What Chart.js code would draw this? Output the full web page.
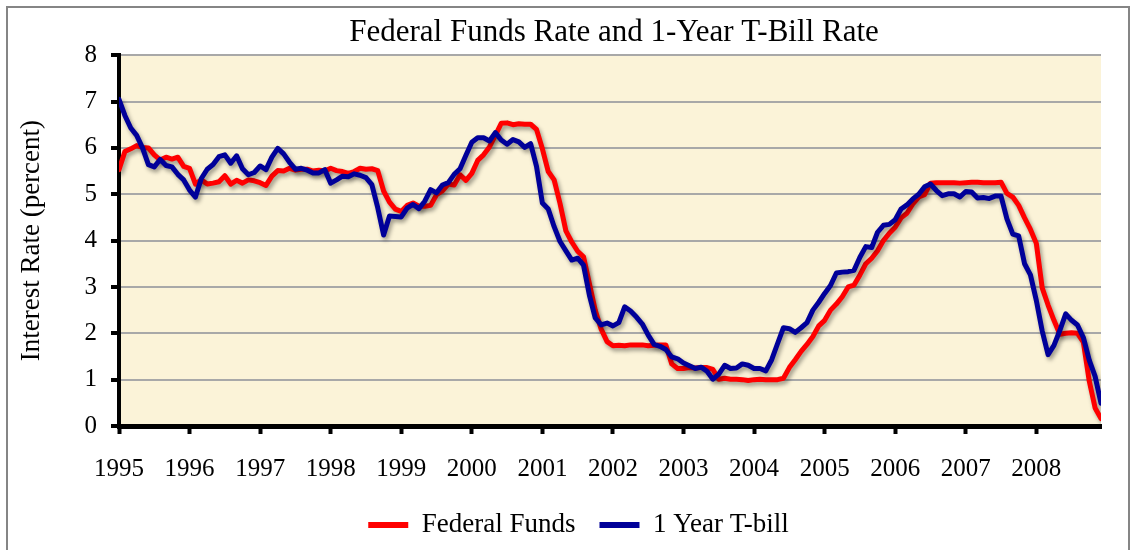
<!DOCTYPE html>
<html>
<head>
<meta charset="utf-8">
<script src="https://cdn.jsdelivr.net/npm/chart.js@4.4.1/dist/chart.umd.min.js"></script>
<style>
html,body{margin:0;padding:0;background:#fff;}
#wrap{width:1132px;height:550px;position:relative;}
</style>
</head>
<body>
<div id="wrap"><canvas id="c" width="1132" height="550"></canvas></div>
<script>
// Tick labels (one per January, starting 1995)
const years = ['1995','1996','1997','1998','1999','2000','2001','2002','2003','2004','2005','2006','2007','2008'];

// Monthly Federal Funds rate, Jan 1995 - Dec 2008 (percent)
const fedFunds = [
  5.53,5.92,5.98,6.05,6.01,6.00,5.85,5.74,5.80,5.76,5.80,5.60,
  5.56,5.22,5.31,5.22,5.24,5.27,5.40,5.22,5.30,5.24,5.31,5.29,
  5.25,5.19,5.39,5.51,5.50,5.56,5.52,5.54,5.54,5.50,5.52,5.50,
  5.56,5.51,5.49,5.45,5.49,5.56,5.54,5.55,5.51,5.07,4.83,4.68,
  4.63,4.76,4.81,4.74,4.74,4.76,4.99,5.07,5.22,5.20,5.42,5.30,
  5.45,5.73,5.85,6.02,6.27,6.53,6.54,6.50,6.52,6.51,6.51,6.40,
  5.98,5.49,5.31,4.80,4.21,3.97,3.77,3.65,3.07,2.49,2.09,1.82,
  1.73,1.74,1.73,1.75,1.75,1.75,1.73,1.74,1.75,1.75,1.34,1.24,
  1.24,1.26,1.25,1.26,1.26,1.22,1.01,1.03,1.01,1.01,1.00,0.98,
  1.00,1.01,1.00,1.00,1.00,1.03,1.26,1.43,1.61,1.76,1.93,2.16,
  2.28,2.50,2.63,2.79,3.00,3.04,3.26,3.50,3.62,3.78,4.00,4.16,
  4.29,4.49,4.59,4.79,4.94,4.99,5.24,5.25,5.25,5.25,5.25,5.24,
  5.25,5.26,5.26,5.25,5.25,5.25,5.26,5.02,4.94,4.76,4.49,4.24,
  3.94,2.98,2.61,2.28,1.98,2.00,2.01,2.00,1.81,0.97,0.39,0.16
];

// Monthly 1-Year T-bill rate, Jan 1995 - Dec 2008 (percent)
const tBill1Year = [
  7.05,6.70,6.43,6.27,6.00,5.64,5.59,5.75,5.62,5.59,5.43,5.31,
  5.09,4.94,5.34,5.54,5.64,5.81,5.85,5.67,5.83,5.55,5.42,5.47,
  5.61,5.53,5.80,5.99,5.87,5.69,5.54,5.56,5.52,5.46,5.46,5.53,
  5.24,5.31,5.39,5.38,5.44,5.41,5.36,5.21,4.71,4.12,4.53,4.52,
  4.51,4.70,4.78,4.69,4.85,5.10,5.03,5.20,5.25,5.43,5.55,5.84,
  6.12,6.22,6.22,6.15,6.33,6.17,6.08,6.18,6.13,6.01,6.09,5.60,
  4.81,4.68,4.30,3.98,3.78,3.58,3.62,3.47,2.82,2.33,2.18,2.22,
  2.16,2.23,2.57,2.48,2.35,2.20,1.96,1.76,1.72,1.65,1.49,1.45,
  1.36,1.30,1.24,1.27,1.18,1.01,1.12,1.31,1.24,1.25,1.34,1.31,
  1.24,1.24,1.19,1.43,1.78,2.12,2.10,2.02,2.12,2.23,2.50,2.67,
  2.86,3.03,3.30,3.32,3.33,3.36,3.64,3.87,3.85,4.18,4.33,4.35,
  4.45,4.68,4.77,4.90,5.00,5.16,5.22,5.08,4.97,5.01,5.01,4.94,
  5.06,5.05,4.92,4.93,4.91,4.96,4.96,4.47,4.14,4.10,3.50,3.26,
  2.71,2.05,1.54,1.74,2.06,2.42,2.28,2.18,1.91,1.42,1.07,0.49
];

const seriesNames = ['Federal Funds', '1 Year T-bill'];
const yMin = 0, yMax = 8;

const SERIF = "'Liberation Serif', 'Times New Roman', serif";

const toXY = arr => arr.map((v, i) => ({ x: i, y: v }));

const framePlugin = {
  id: 'frame',
  beforeDraw(chart) {
    const { ctx, chartArea: a } = chart;
    ctx.save();
    ctx.fillStyle = '#ffffff';
    ctx.fillRect(0, 0, chart.width, chart.height);
    ctx.fillStyle = '#FBF3D8';
    ctx.fillRect(a.left, a.top, a.right - a.left, a.bottom - a.top);
    ctx.strokeStyle = '#858585';
    ctx.lineWidth = 2;
    ctx.strokeRect(7, 7, 1122, 580);
    ctx.restore();
  }
};

const shadowPlugin = {
  id: 'lineShadow',
  beforeDatasetDraw(chart) {
    const ctx = chart.ctx;
    ctx.save();
    ctx.shadowColor = 'rgba(0,0,0,0.38)';
    ctx.shadowBlur = 4;
    ctx.shadowOffsetX = 2;
    ctx.shadowOffsetY = 3;
  },
  afterDatasetDraw(chart) {
    chart.ctx.restore();
  }
};

const blockShift = {
  id: 'blockShift',
  afterLayout(chart) {
    const lg = chart.legend;
    if (lg) { lg.left += 23; lg.right += 23; }
    const tb = chart.titleBlock;
    if (tb) { tb.left += 4; tb.right += 4; }
  }
};

new Chart(document.getElementById('c'), {
  type: 'line',
  data: {
    datasets: [
      {
        label: seriesNames[0],
        data: toXY(fedFunds),
        borderColor: '#FF0000',
        backgroundColor: '#FF0000',
        borderWidth: 5,
        pointRadius: 0,
        tension: 0,
        order: 1,
        borderCapStyle: 'round',
        borderJoinStyle: 'round'
      },
      {
        label: seriesNames[1],
        data: toXY(tBill1Year),
        borderColor: '#000099',
        backgroundColor: '#000099',
        borderWidth: 5,
        pointRadius: 0,
        tension: 0,
        order: 0,
        borderCapStyle: 'round',
        borderJoinStyle: 'round'
      }
    ]
  },
  options: {
    responsive: false,
    animation: false,
    devicePixelRatio: 1,
    layout: { padding: { left: 10, right: 31, top: 10, bottom: 1.5 } },
    plugins: {
      tooltip: { enabled: false },
      title: {
        display: true,
        text: 'Federal Funds Rate and 1-Year T-Bill Rate',
        fullSize: false,
        color: '#000',
        font: { family: SERIF, size: 31, weight: 'normal' },
        padding: { top: 4, bottom: 4 }
      },
      legend: {
        position: 'bottom',
        labels: {
          color: '#000',
          font: { family: SERIF, size: 27 },
          boxWidth: 40,
          boxHeight: 6,
          padding: 24,
          sort: (a, b) => a.datasetIndex - b.datasetIndex,
          generateLabels(chart) {
            const items = Chart.defaults.plugins.legend.labels.generateLabels(chart);
            items.forEach(it => { it.lineWidth = 0; it.fillStyle = it.strokeStyle; });
            return items;
          }
        }
      }
    },
    scales: {
      x: {
        type: 'linear',
        min: 0,
        max: fedFunds.length - 1,
        offset: false,
        border: { display: true, color: '#000', width: 5 },
        grid: { drawOnChartArea: false, drawTicks: true, tickLength: 8, tickWidth: 4, tickColor: '#000', color: '#000' },
        ticks: {
          stepSize: 12,
          includeBounds: false,
          autoSkip: false,
          maxRotation: 0,
          color: '#000',
          padding: 20,
          font: { family: SERIF, size: 25 },
          callback: v => (v % 12 === 0 ? years[v / 12] : '')
        },
        afterFit: s => { s.height = 61.5; }
      },
      y: {
        min: yMin,
        max: yMax,
        border: { display: true, color: '#000', width: 4 },
        grid: { color: '#A8A8A8', lineWidth: 2, tickLength: 8, tickWidth: 4, tickColor: '#000' },
        ticks: {
          stepSize: 1,
          color: '#000',
          padding: 14,
          font: { family: SERIF, size: 25 }
        },
        title: {
          display: true,
          text: 'Interest Rate (percent)',
          color: '#000',
          font: { family: SERIF, size: 27 },
          padding: { top: 6, bottom: 0 }
        },
        afterFit: s => { s.width = 109; }
      }
    }
  },
  plugins: [framePlugin, shadowPlugin, blockShift]
});
</script>
</body>
</html>
